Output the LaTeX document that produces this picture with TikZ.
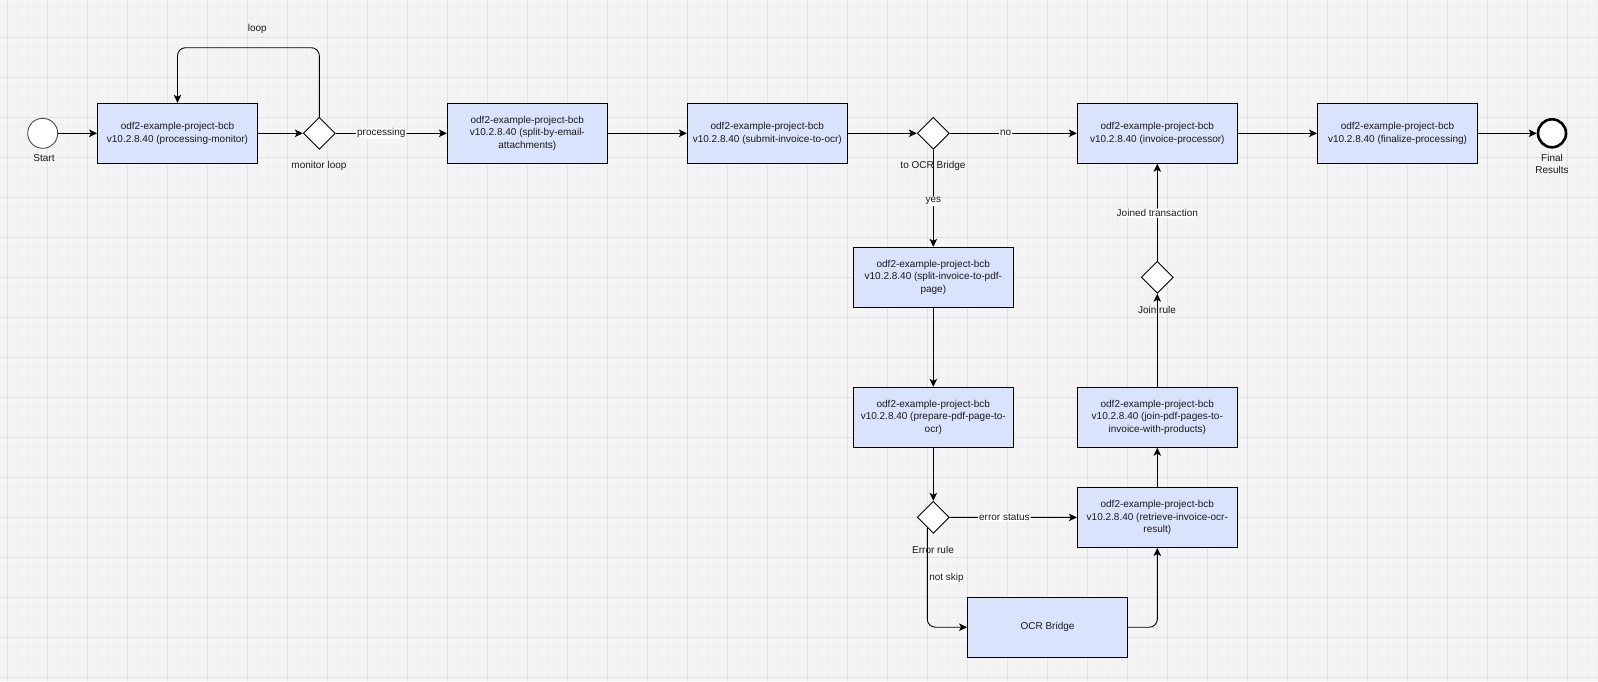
\documentclass[tikz,border=0pt]{standalone}
\usepackage{fontspec}
\setmainfont{Liberation Sans}
\usetikzlibrary{shapes.geometric,arrows.meta,calc}
\definecolor{bgc}{HTML}{F4F4F4}
\definecolor{minorc}{HTML}{EFEFEF}
\definecolor{majorc}{HTML}{E3E3E3}
\definecolor{boxc}{HTML}{DAE3FC}
\definecolor{txtc}{HTML}{1A1A1A}
\begin{document}
\begin{tikzpicture}[x=1pt,y=-1pt,
  txt/.style={font=\fontsize{10}{12.3}\selectfont, text=txtc},
  proc/.style={txt, draw=black, line width=0.9pt, fill=boxc, minimum width=160pt, minimum height=60pt, align=center, inner sep=2pt},
  gate/.style={diamond, draw=black, line width=0.9pt, fill=white, minimum size=32pt, inner sep=0pt},
  startev/.style={circle, draw=black!70, line width=0.9pt, fill=white, minimum size=30pt, inner sep=0pt},
  endev/.style={circle, draw=black, line width=2.6pt, fill=white, minimum size=28pt, inner sep=0pt},
  plain/.style={txt, align=center, inner sep=0pt},
  elabel/.style={txt, fill=white, inner sep=1pt},
  flow/.style={draw=black, line width=0.9pt, -{Stealth[length=8pt,width=7.5pt,inset=2pt]}, rounded corners=8pt}
]
\useasboundingbox (0,0) rectangle (1598,681);
\begin{scope}
\clip (0,0) rectangle (1598,681);
\fill[bgc] (0,0) rectangle (1598,681);
\foreach \i in {0,...,160} {
  \draw[minorc, line width=0.6pt] ({-2.7+10*\i},0) -- ({-2.7+10*\i},681);
}
\foreach \j in {0,...,69} {
  \draw[minorc, line width=0.6pt] (0,{-2.7+10*\j}) -- (1598,{-2.7+10*\j});
}
\foreach \i in {0,...,40} {
  \draw[majorc, line width=0.8pt] ({7.3+40*\i},0) -- ({7.3+40*\i},681);
}
\foreach \j in {0,...,17} {
  \draw[majorc, line width=0.8pt] (0,{-2.7+40*\j}) -- (1598,{-2.7+40*\j});
}
\end{scope}

% nodes
\node[startev] (start) at (42.7,133.3) {};
\node[plain] (startl) at (44,157.7) {Start};
\node[proc] (b1) at (177.5,133.3) {odf2-example-project-bcb\\v10.2.8.40 (processing-monitor)};
\node[gate] (d1) at (319.3,133.3) {};
\node[plain] (d1l) at (319,165.7) {monitor loop};
\node[proc] (b2) at (527.3,133.3) {odf2-example-project-bcb\\v10.2.8.40 (split-by-email-\\attachments)};
\node[proc] (b3) at (767.3,133.3) {odf2-example-project-bcb\\v10.2.8.40 (submit-invoice-to-ocr)};
\node[gate] (d2) at (933.3,133.3) {};
\node[proc] (b4) at (1157.3,133.3) {odf2-example-project-bcb\\v10.2.8.40 (invoice-processor)};
\node[proc] (b5) at (1397.5,133.3) {odf2-example-project-bcb\\v10.2.8.40 (finalize-processing)};
\node[endev] (end) at (1552,133.3) {};
\node[plain] (endl) at (1552,164) {Final\\Results};
\node[proc] (b6) at (933.3,277.3) {odf2-example-project-bcb\\v10.2.8.40 (split-invoice-to-pdf-\\page)};
\node[proc] (b7) at (933.3,417.3) {odf2-example-project-bcb\\v10.2.8.40 (prepare-pdf-page-to-\\ocr)};
\node[gate] (d4) at (933.3,517.3) {};
\node[proc] (b9) at (1157.3,517.5) {odf2-example-project-bcb\\v10.2.8.40 (retrieve-invoice-ocr-\\result)};
\node[proc] (b10) at (1047.5,627.2) {OCR Bridge};
\node[proc] (b8) at (1157.3,417.3) {odf2-example-project-bcb\\v10.2.8.40 (join-pdf-pages-to-\\invoice-with-products)};
\node[gate] (d3) at (1157.3,277.3) {};
\coordinate (lp) at (250,47.7);

% connectors
\draw[flow] (start) -- (b1);
\draw[flow] (b1) -- (d1);
\draw[flow] (d1) -- node[elabel, pos=0.41] {processing} (b2);
\draw[flow] (d1.north) -- (d1.north |- lp) -| (b1.north);
\draw[flow] (b2) -- (b3);
\draw[flow] (b3) -- (d2);
\draw[flow] (d2) -- node[elabel, pos=0.44] {no} (b4);
\draw[flow] (b4) -- (b5);
\draw[flow] (b5) -- (end);
\draw[flow] (d2.south) -- node[elabel, pos=0.53] {yes} (b6.north);
\draw[flow] (b6) -- (b7);
\draw[flow] (b7) -- (d4);
\draw[flow] (d4) -- node[elabel, pos=0.43] {error status} (b9);
\draw[flow] ($(d4.south)+(-6,-6)$) |- node[elabel, pos=0.25, anchor=west, xshift=0.5pt] {not skip} (b10.west);
\draw[flow] (b10.east) -| (b9.south);
\draw[flow] (b9) -- (b8);
\draw[flow] (b8) -- (d3);
\draw[flow] (d3) -- node[elabel, pos=0.49] {Joined transaction} (b4);

% free labels
\node[plain] (loopl) at (257.3,28.5) {loop};
\node[plain] (d2l) at (933,166) {to OCR Bridge};
\node[plain] (d4l) at (933,550) {Error rule};
\node[plain] (d3l) at (1157,310) {Join rule};
\end{tikzpicture}
\end{document}
